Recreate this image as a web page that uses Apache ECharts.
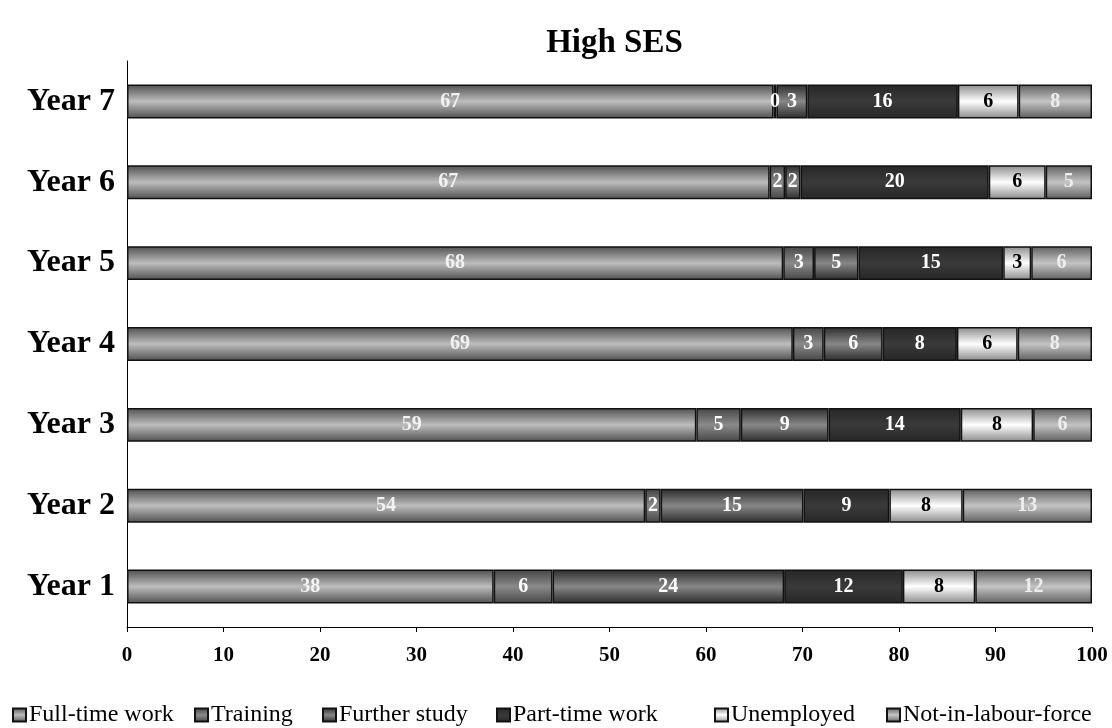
<!DOCTYPE html>
<html>
<head>
<meta charset="utf-8">
<script src="https://cdn.jsdelivr.net/npm/echarts@6/dist/echarts.min.js"></script>
<style>
html,body{margin:0;padding:0;background:#fff;}
#chart{width:1112px;height:728px;}
</style>
</head>
<body>
<div id="chart"></div>
<script>
const titleText = 'High SES';
const categories = ['Year 1', 'Year 2', 'Year 3', 'Year 4', 'Year 5', 'Year 6', 'Year 7'];
const seriesNames = ['Full-time work', 'Training', 'Further study', 'Part-time work', 'Unemployed', 'Not-in-labour-force'];
const fullTime     = [38.0, 53.7, 59.0, 69.0, 68.0, 66.6, 67.0];
const training     = [6.1, 1.6, 4.6, 3.2, 3.2, 1.6, 0.3];
const furtherStudy = [24.0, 14.8, 9.1, 6.1, 4.6, 1.6, 3.2];
const partTime     = [12.3, 8.9, 13.7, 7.7, 15.0, 19.5, 15.6];
const unemployed   = [7.5, 7.6, 7.5, 6.3, 2.9, 5.9, 6.3];
const notInLabour  = [12.1, 13.4, 6.1, 7.7, 6.3, 4.8, 7.6];
const xTicks = [0, 10, 20, 30, 40, 50, 60, 70, 80, 90, 100];

const values = [fullTime, training, furtherStudy, partTime, unemployed, notInLabour];
const FONT = "'Liberation Serif', 'Times New Roman', serif";

function grad(edge, mid) {
  return new echarts.graphic.LinearGradient(0, 0, 0, 1, [
    {offset: 0, color: edge},
    {offset: 0.5, color: mid},
    {offset: 1, color: edge}
  ]);
}
const fills = [
  grad('#4f4f4f', '#bdbdbd'),
  grad('#454545', '#8a8a8a'),
  grad('#2c2c2c', '#878787'),
  grad('#262626', '#3a3a3a'),
  grad('#8a8a8a', '#ffffff'),
  grad('#5e5e5e', '#c4c4c4')
];
const labelColors = ['#f2f2f2', '#ffffff', '#ffffff', '#ffffff', '#000000', '#eeeeee'];
const legendLeft = [12, 194, 322, 496, 714, 886];

const series = seriesNames.map((name, i) => ({
  name: name,
  type: 'bar',
  stack: 'total',
  barCategoryGap: '58%',
  data: values[i],
  itemStyle: {color: fills[i], borderColor: '#111', borderWidth: 1.5},
  label: {
    show: true,
    position: 'inside',
    color: labelColors[i],
    fontFamily: FONT,
    fontWeight: 'bold',
    fontSize: 20,
    formatter: p => String(Math.round(p.value))
  },
  emphasis: {disabled: true}
}));

const legends = seriesNames.map((name, i) => ({
  data: [name],
  left: legendLeft[i],
  top: 703,
  itemWidth: 13,
  itemHeight: 13,
  itemGap: 4,
  padding: 0,
  icon: 'rect',
  textStyle: {fontFamily: FONT, fontSize: 24, color: '#000', padding: [0, 0, 0, -2]}
}));

const chart = echarts.init(document.getElementById('chart'), null, {renderer: 'canvas'});
chart.setOption({
  animation: false,
  backgroundColor: '#fff',
  title: {
    text: titleText,
    left: 609.5,
    textAlign: 'center',
    top: 22,
    textStyle: {fontFamily: FONT, fontWeight: 'bold', fontSize: 33, color: '#000'}
  },
  legend: legends,
  grid: {left: 127, right: 20, top: 61, bottom: 101, containLabel: false},
  xAxis: {
    type: 'value',
    min: 0,
    max: 100,
    interval: 10,
    axisLine: {show: true, lineStyle: {color: '#000', width: 1}},
    axisTick: {show: true, length: 5, lineStyle: {color: '#000'}},
    splitLine: {show: false},
    axisLabel: {
      fontFamily: FONT, fontWeight: 'bold', fontSize: 21, color: '#000', margin: 18,
      formatter: v => xTicks.includes(v) ? String(v) : ''
    }
  },
  yAxis: {
    type: 'category',
    data: categories,
    axisLine: {show: true, lineStyle: {color: '#000', width: 1}},
    axisTick: {show: false},
    axisLabel: {fontFamily: FONT, fontWeight: 'bold', fontSize: 32, color: '#000', margin: 12}
  },
  series: series
});
</script>
</body>
</html>
